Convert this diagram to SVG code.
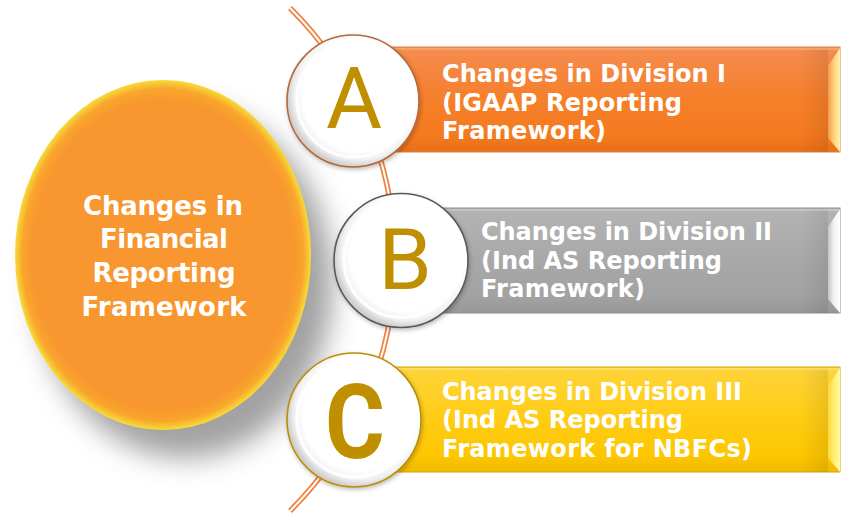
<svg xmlns="http://www.w3.org/2000/svg" width="851" height="521" viewBox="0 0 851 521">
  <defs>
    <style>
      .lbl { font-family: "DejaVu Sans", "Open Sans", sans-serif; font-weight: 700; font-size: 24px; fill: #ffffff; }
      .big { font-family: "DejaVu Sans", "Open Sans", sans-serif; font-weight: 700; font-size: 26px; fill: #ffffff; text-anchor: middle; }
      .letter { font-family: Roboto, "Liberation Sans", sans-serif; fill: #BF8F00; text-anchor: middle; }
      .ring { fill: none; stroke: #ffffff; stroke-width: 3; opacity: 0.9; }
    </style>

    <!-- main ellipse: orange body with a yellow rim -->
    <radialGradient id="gOrb" cx="0.5" cy="0.5" r="0.5">
      <stop offset="0" stop-color="#F8962F"/>
      <stop offset="0.88" stop-color="#F8962F"/>
      <stop offset="0.95" stop-color="#F9A62C"/>
      <stop offset="1" stop-color="#F6DC38"/>
    </radialGradient>

    <filter id="fShadow" x="-30%" y="-30%" width="160%" height="160%">
      <feGaussianBlur stdDeviation="14"/>
    </filter>
    <filter id="fDisc" x="-20%" y="-20%" width="140%" height="140%">
      <feDropShadow dx="1" dy="2" stdDeviation="2" flood-color="#000" flood-opacity="0.25"/>
    </filter>

    <!-- letter discs -->
    <radialGradient id="gDisc" cx="0.55" cy="0.45" r="0.55">
      <stop offset="0" stop-color="#FFFFFF"/>
      <stop offset="0.78" stop-color="#FFFFFF"/>
      <stop offset="0.9" stop-color="#F1F1F1"/>
      <stop offset="1" stop-color="#CFCFCF"/>
    </radialGradient>

    <!-- bar bodies -->
    <linearGradient id="gBarA" x1="0" y1="0" x2="0" y2="1">
      <stop offset="0" stop-color="#F58C50"/>
      <stop offset="0.5" stop-color="#F67F2A"/>
      <stop offset="0.85" stop-color="#F47A1E"/>
      <stop offset="1" stop-color="#E86E18"/>
    </linearGradient>
    <linearGradient id="gBarB" x1="0" y1="0" x2="0" y2="1">
      <stop offset="0" stop-color="#B4B4B4"/>
      <stop offset="0.5" stop-color="#A8A8A8"/>
      <stop offset="0.85" stop-color="#A2A2A2"/>
      <stop offset="1" stop-color="#979797"/>
    </linearGradient>
    <linearGradient id="gBarC" x1="0" y1="0" x2="0" y2="1">
      <stop offset="0" stop-color="#FFD43A"/>
      <stop offset="0.5" stop-color="#FFCC14"/>
      <stop offset="0.85" stop-color="#FDC600"/>
      <stop offset="1" stop-color="#F0BA00"/>
    </linearGradient>

    <!-- right-hand bevels -->
    <linearGradient id="gBevA" x1="0" y1="0" x2="1" y2="0">
      <stop offset="0" stop-color="#F39A4E"/>
      <stop offset="0.5" stop-color="#FFD27A"/>
      <stop offset="1" stop-color="#FFF2B4"/>
    </linearGradient>
    <linearGradient id="gBevB" x1="0" y1="0" x2="1" y2="0">
      <stop offset="0" stop-color="#C4C4C4"/>
      <stop offset="0.5" stop-color="#F2F2F2"/>
      <stop offset="1" stop-color="#FFFFFF"/>
    </linearGradient>
    <linearGradient id="gBevC" x1="0" y1="0" x2="1" y2="0">
      <stop offset="0" stop-color="#FFD640"/>
      <stop offset="0.5" stop-color="#FFEE70"/>
      <stop offset="1" stop-color="#FFF8A8"/>
    </linearGradient>
    <linearGradient id="gShade" x1="0" y1="0" x2="1" y2="0">
      <stop offset="0" stop-color="#000" stop-opacity="0"/>
      <stop offset="1" stop-color="#000" stop-opacity="0.08"/>
    </linearGradient>
  </defs>

  <rect width="851" height="521" fill="#ffffff"/>

  <!-- central topic -->
  <g id="framework">
    <ellipse cx="185" cy="283" rx="148" ry="175" fill="#8A8A8A" opacity="0.8" filter="url(#fShadow)"/>
    <ellipse cx="163" cy="255" rx="148" ry="175" fill="url(#gOrb)"/>
    <text class="big" x="163" y="215" textLength="160">Changes in</text>
    <text class="big" x="164" y="248" textLength="128">Financial</text>
    <text class="big" x="164" y="282" textLength="143">Reporting</text>
    <text class="big" x="164" y="316" textLength="165">Framework</text>
  </g>

  <!-- double-lined arc behind the letter discs -->
  <g id="connectors">
    <path d="M290,8 A354,354 0 0 1 290,511" fill="none" stroke="#F08242" stroke-width="5.5"/>
    <path d="M290,8 A354,354 0 0 1 290,511" fill="none" stroke="#ffffff" stroke-width="2"/>
  </g>

  <!-- Division I -->
  <g id="division-a">
    <rect x="385" y="47" width="455" height="105" fill="url(#gBarA)" stroke="#D9814C" stroke-width="1"/>
    <rect x="800" y="48" width="28" height="104" fill="url(#gShade)"/>
    <polygon points="828,66 840,48 840,152 828,138" fill="url(#gBevA)"/>
    <rect x="385" y="48" width="455" height="2" fill="#FBB07E" opacity="0.6"/>
    <circle cx="353" cy="101" r="66" fill="url(#gDisc)" stroke="#B8693A" stroke-width="1.6" filter="url(#fDisc)"/>
    <circle class="ring" cx="354" cy="100" r="57"/>
    <text class="letter" x="354" y="128" font-size="86">A</text>
    <text class="lbl" x="442" y="82" textLength="284">Changes in Division I</text>
    <text class="lbl" x="442" y="110.5" textLength="240">(IGAAP Reporting</text>
    <text class="lbl" x="442" y="139" textLength="164">Framework)</text>
  </g>

  <!-- Division II -->
  <g id="division-b">
    <rect x="430" y="208" width="410" height="105" fill="url(#gBarB)" stroke="#8E8E8E" stroke-width="1"/>
    <rect x="800" y="209" width="28" height="104" fill="url(#gShade)"/>
    <polygon points="828,227 840,209 840,313 828,299" fill="url(#gBevB)"/>
    <rect x="430" y="209" width="410" height="2" fill="#D0D0D0" opacity="0.6"/>
    <circle cx="401" cy="260.5" r="67" fill="url(#gDisc)" stroke="#5A5A5A" stroke-width="1.6" filter="url(#fDisc)"/>
    <circle class="ring" cx="402" cy="259.5" r="58"/>
    <text class="letter" x="405" y="289" font-size="86">B</text>
    <text class="lbl" x="481" y="240" textLength="291">Changes in Division II</text>
    <text class="lbl" x="481" y="268.5" textLength="241">(Ind AS Reporting</text>
    <text class="lbl" x="481" y="297" textLength="164">Framework)</text>
  </g>

  <!-- Division III -->
  <g id="division-c">
    <rect x="385" y="367" width="455" height="105" fill="url(#gBarC)" stroke="#D9A800" stroke-width="1"/>
    <rect x="800" y="368" width="28" height="104" fill="url(#gShade)"/>
    <polygon points="828,386 840,368 840,472 828,458" fill="url(#gBevC)"/>
    <rect x="385" y="368" width="455" height="2" fill="#FFE27A" opacity="0.6"/>
    <circle cx="354" cy="420" r="67" fill="url(#gDisc)" stroke="#B8900A" stroke-width="1.6" filter="url(#fDisc)"/>
    <circle class="ring" cx="355" cy="419" r="58"/>
    <text class="letter" x="355" y="458" font-size="104" font-weight="700" transform="translate(355 0) scale(0.88 1) translate(-355 0)">C</text>
    <text class="lbl" x="442" y="399.5" textLength="300">Changes in Division III</text>
    <text class="lbl" x="442" y="428" textLength="241">(Ind AS Reporting</text>
    <text class="lbl" x="442" y="456.5" textLength="310">Framework for NBFCs)</text>
  </g>
</svg>
